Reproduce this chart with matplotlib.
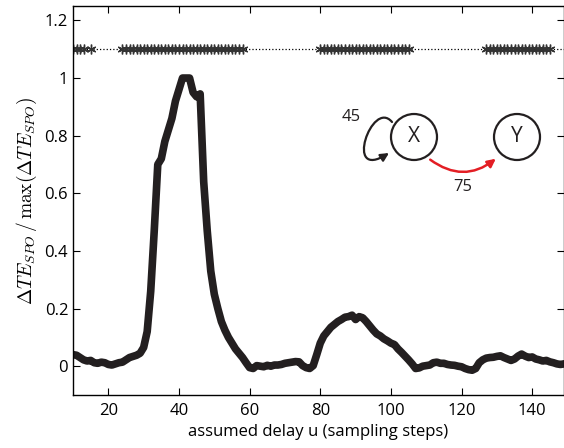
import numpy as np
import matplotlib.pyplot as plt
from matplotlib.patches import Circle, FancyArrowPatch
from matplotlib.path import Path

plt.rcParams['font.family'] = ['Open Sans', 'DejaVu Sans']
plt.rcParams['mathtext.fontset'] = 'cm'

# assumed delay u and normalised Delta TE_SPO
u = np.arange(10, 150)
te = [0.040, 0.038, 0.030, 0.022, 0.018, 0.020, 0.012, 0.010, 0.014, 0.012,
      0.006, 0.004, 0.008, 0.012, 0.014, 0.022, 0.030, 0.034, 0.038, 0.045,
      0.065, 0.120, 0.260, 0.470, 0.700, 0.720, 0.780, 0.820, 0.860, 0.920,
      0.960, 1.000, 1.000, 1.000, 0.950, 0.935, 0.945, 0.640, 0.470, 0.330,
      0.250, 0.200, 0.155, 0.125, 0.100, 0.080, 0.060, 0.045, 0.030, 0.012,
      -0.005, -0.008, 0.002, 0.000, -0.002, 0.003, 0.000, 0.004, 0.004, 0.006,
      0.010, 0.012, 0.014, 0.016, 0.015, 0.002, -0.005, -0.008, 0.002, 0.040,
      0.080, 0.105, 0.120, 0.135, 0.145, 0.155, 0.162, 0.170, 0.172, 0.177,
      0.162, 0.172, 0.168, 0.155, 0.140, 0.125, 0.112, 0.105, 0.095, 0.088,
      0.080, 0.075, 0.060, 0.048, 0.035, 0.022, 0.008, -0.008, -0.006, 0.000,
      0.002, 0.004, 0.012, 0.014, 0.010, 0.010, 0.006, 0.004, 0.003, 0.000,
      -0.002, -0.008, -0.012, -0.014, -0.008, 0.012, 0.022, 0.028, 0.030, 0.031,
      0.034, 0.036, 0.030, 0.025, 0.020, 0.025, 0.035, 0.042, 0.035, 0.030,
      0.032, 0.025, 0.022, 0.018, 0.020, 0.015, 0.012, 0.008, 0.006, 0.008]

# delays marked significant (stars at y = 1.1)
sig_u = ([10, 11, 12, 13, 15] + list(range(24, 59)) + list(range(80, 106))
         + list(range(127, 146)))
sig_level = 1.1

xticks = [20, 40, 60, 80, 100, 120, 140]
yticks = [0, 0.2, 0.4, 0.6, 0.8, 1, 1.2]

fig = plt.figure(figsize=(5.64, 4.48), dpi=100)
ax = fig.add_axes([73 / 564, 53 / 448, 491 / 564, 389 / 448])

dark = '#231f20'
ax.plot([u[0], u[-1]], [sig_level, sig_level], ':', color='k', lw=0.9)
ax.plot(sig_u, [sig_level] * len(sig_u), marker=(6, 2, 0), ls='none',
        color='#333333', ms=7, mew=1.0)
ax.plot(u, te, '.-', color=dark, lw=5.5, ms=4, solid_joinstyle='round')

ax.set_xlim(10, 149)
ax.set_ylim(-0.1, 1.25)
ax.set_xticks(xticks)
ax.set_yticks(yticks)
ax.set_yticklabels(['%g' % t for t in yticks])
ax.tick_params(direction='in', top=True, right=True, length=5, width=0.8,
               labelsize=12)
ax.tick_params(axis='x', pad=6)
for s in ax.spines.values():
    s.set_linewidth(1.0)
ax.set_xlabel('assumed delay u (sampling steps)', fontsize=12, labelpad=3)
ax.set_ylabel(r'$\Delta TE_{SPO}\,/\,\max(\Delta TE_{SPO})$', fontsize=14,
              labelpad=4)

# inset network diagram, drawn in pixel coordinates
ov = fig.add_axes([0, 0, 1, 1])
ov.set_xlim(0, 564)
ov.set_ylim(448, 0)
ov.axis('off')
ov.patch.set_alpha(0)
for cx, name in [(414, 'X'), (517, 'Y')]:
    ov.add_patch(Circle((cx, 137), 23, fill=False, lw=1.6, color=dark))
    ov.text(cx, 137, name, ha='center', va='center', fontsize=15, color=dark)

loop_path = Path([(392, 122), (372, 98), (343, 182), (389, 153)],
                 [Path.MOVETO, Path.CURVE4, Path.CURVE4, Path.CURVE4])
loop = FancyArrowPatch(path=loop_path, arrowstyle='-|>', mutation_scale=12,
                       lw=1.6, color=dark)
ov.add_patch(loop)
ov.text(351, 117, '45', ha='center', va='center', fontsize=12, color=dark)

edge = FancyArrowPatch((428, 158), (498, 157), connectionstyle='arc3,rad=0.4',
                       arrowstyle='-|>', mutation_scale=12, lw=1.8,
                       color='#e31e24')
ov.add_patch(edge)
ov.text(463, 187, '75', ha='center', va='center', fontsize=12, color=dark)

fig.savefig('out.png', dpi=100)
